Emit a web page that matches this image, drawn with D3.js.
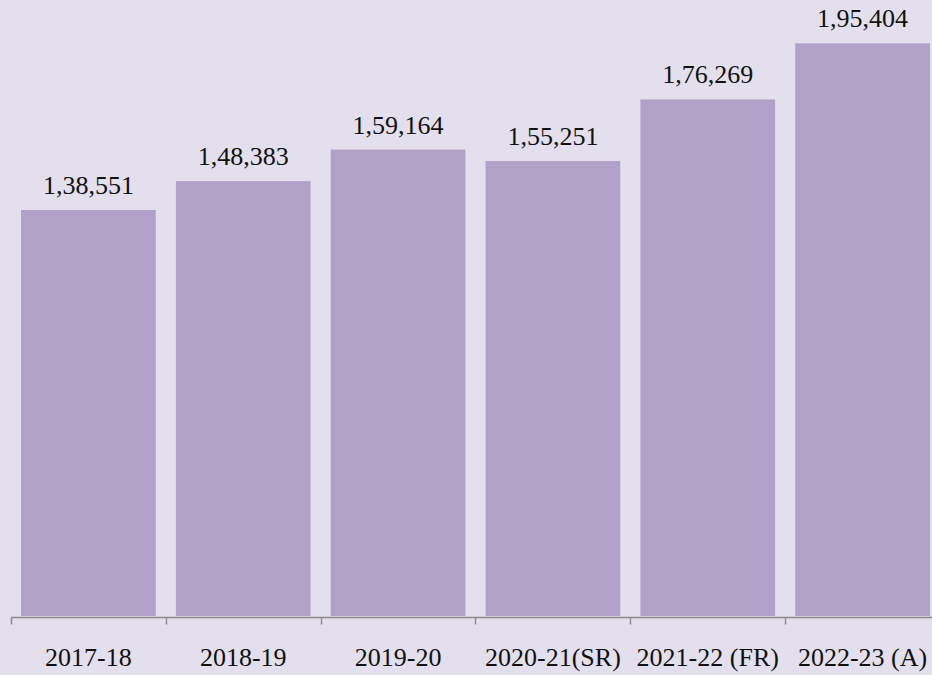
<!DOCTYPE html>
<html>
<head>
<meta charset="utf-8">
<script src="https://cdn.jsdelivr.net/npm/d3@7"></script>
<style>
  html, body { margin: 0; padding: 0; background: #e4dfec; }
  svg { display: block; }
</style>
</head>
<body>
<svg id="chart" width="932" height="675"></svg>
<script>
// Annual figures by year
const years = ["2017-18", "2018-19", "2019-20", "2020-21(SR)", "2021-22 (FR)", "2022-23 (A)"];
const values = [138551, 148383, 159164, 155251, 176269, 195404];
const valueLabels = ["1,38,551", "1,48,383", "1,59,164", "1,55,251", "1,76,269", "1,95,404"];

const W = 932, H = 675;
const baseY = 616;

const svg = d3.select("#chart");
svg.append("rect").attr("width", W).attr("height", H).attr("fill", "#e4dfec");

const x = d3.scaleBand()
  .domain(years)
  .range([11, 940])
  .paddingInner(0.13)
  .paddingOuter(0.065);

const y = d3.scaleLinear()
  .domain([0, 210200])
  .range([baseY, 0]);

const font = "'Liberation Serif', 'Times New Roman', serif";

// Bars
svg.append("g").selectAll("rect")
  .data(years)
  .join("rect")
  .attr("x", d => x(d))
  .attr("y", (d, i) => y(values[i]))
  .attr("width", x.bandwidth())
  .attr("height", (d, i) => baseY - y(values[i]))
  .attr("fill", "#b1a1c9");

// Value labels
svg.append("g").selectAll("text")
  .data(years)
  .join("text")
  .attr("x", d => x(d) + x.bandwidth() / 2)
  .attr("y", (d, i) => y(values[i]) - 16)
  .attr("text-anchor", "middle")
  .attr("font-family", font)
  .attr("font-size", 26)
  .attr("fill", "#111")
  .text((d, i) => valueLabels[i]);

// Category axis: baseline with ticks at band boundaries
const axisY = 617.5;
const step = x.step();
const boundaries = years.map(d => x(d) - x.paddingInner() * step / 2).concat([x(years[years.length - 1]) + x.bandwidth() + x.paddingInner() * step / 2]);
const axis = svg.append("g");
axis.append("line")
  .attr("x1", boundaries[0]).attr("x2", W + 10)
  .attr("y1", axisY).attr("y2", axisY)
  .attr("stroke", "#8c8c8c").attr("stroke-width", 1.5);
axis.selectAll("line.tick")
  .data(boundaries)
  .join("line")
  .attr("class", "tick")
  .attr("x1", d => Math.round(d) + 0.5).attr("x2", d => Math.round(d) + 0.5)
  .attr("y1", axisY).attr("y2", axisY + 7)
  .attr("stroke", "#8c8c8c").attr("stroke-width", 1.5);
axis.selectAll("text")
  .data(years)
  .join("text")
  .attr("x", d => x(d) + x.bandwidth() / 2)
  .attr("y", 666)
  .attr("text-anchor", "middle")
  .attr("font-family", font)
  .attr("font-size", 26)
  .attr("fill", "#111")
  .text(d => d);
</script>
</body>
</html>
